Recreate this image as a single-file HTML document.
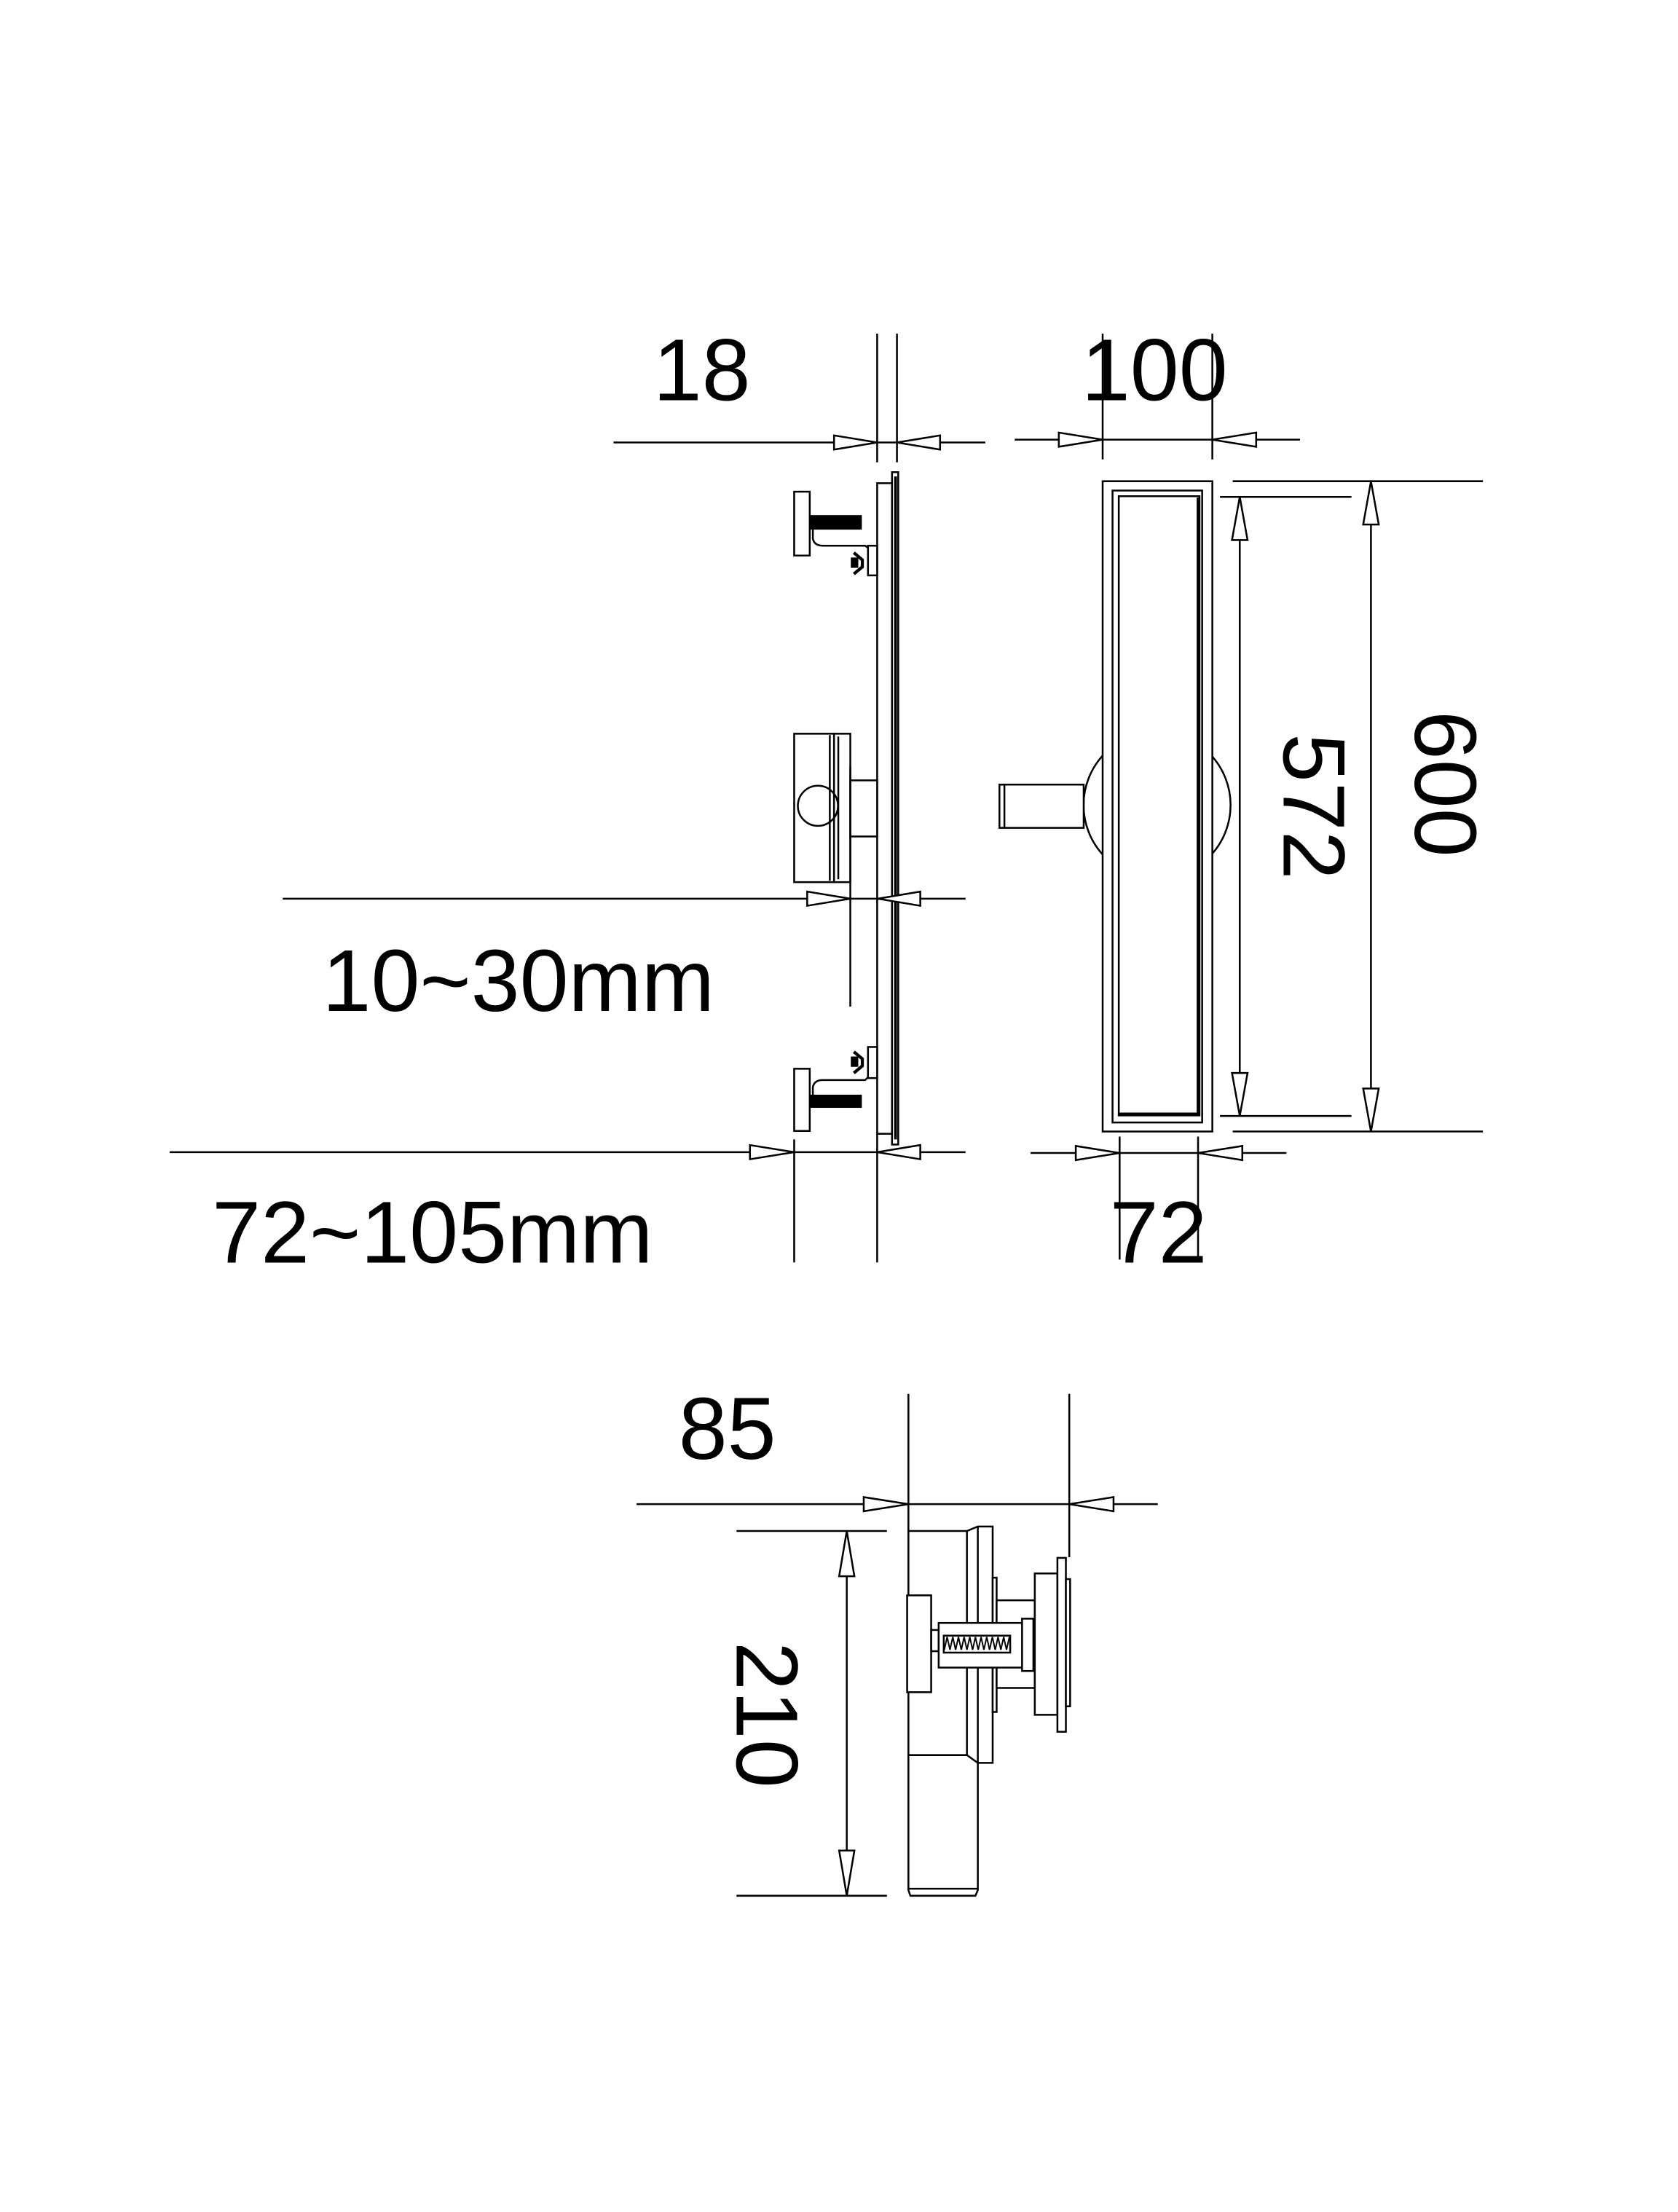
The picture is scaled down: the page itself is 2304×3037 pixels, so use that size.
<!DOCTYPE html>
<html><head><meta charset="utf-8"><style>
html,body{margin:0;padding:0;background:#fff;}
svg{display:block;}
text{font-family:"Liberation Sans",sans-serif;fill:#000;}
</style></head><body>
<svg width="2304" height="3037" viewBox="0 0 1187 1564.7" preserveAspectRatio="none" xmlns="http://www.w3.org/2000/svg">
<rect width="1187" height="1565" fill="#fff"/>
<g fill="none" stroke="#000" stroke-width="1.3">
<!-- ===== side view ===== -->
<!-- 18 dim -->
<line x1="434" y1="313" x2="697" y2="313"/>
<line x1="620.5" y1="236" x2="620.5" y2="327"/>
<line x1="634.5" y1="236" x2="634.5" y2="327"/>
<polygon points="620.5,313 590,308 590,318" fill="#fff"/>
<polygon points="634.5,313 665,308 665,318" fill="#fff"/>
<!-- plate -->
<rect x="620.5" y="341.8" width="10.5" height="460.2" fill="#fff"/>
<rect x="631" y="334" width="4.4" height="475.6" fill="#fff"/>
<line x1="633.5" y1="337" x2="633.5" y2="806" stroke-width="2"/>
<!-- top bracket -->
<rect x="561.8" y="347.8" width="11" height="45.2" fill="#fff"/>
<rect x="574" y="365" width="35" height="9" fill="#000"/>
<path d="M575,374 L575,381 Q576,386 582,386 L612,386 L616,389"/>
<rect x="614" y="386" width="6.5" height="21" fill="#fff"/>
<path d="M604,391 L610,396 L610,401 L604,406" stroke-width="2.2"/>
<rect x="602.5" y="395" width="4" height="6" fill="#000"/>
<!-- bottom bracket -->
<rect x="561.8" y="756" width="11" height="44" fill="#fff"/>
<rect x="574" y="775" width="35" height="8" fill="#000"/>
<path d="M575,775 L575,769 Q576,764 582,764 L612,764 L616,760"/>
<rect x="614" y="740.6" width="6.5" height="22" fill="#fff"/>
<path d="M604,744 L610,749 L610,754 L604,759" stroke-width="2.2"/>
<rect x="602.5" y="748" width="4" height="6" fill="#000"/>
<!-- middle box -->
<rect x="561.8" y="519" width="28.2" height="105" fill="#fff"/>
<rect x="590" y="519" width="11.5" height="105" fill="#fff"/>
<line x1="593" y1="521" x2="593" y2="622"/>
<line x1="587" y1="520" x2="587" y2="623"/>
<rect x="601.5" y="552" width="19" height="39.7" fill="#fff"/>
<circle cx="578.6" cy="570" r="14.2"/>
<!-- 10~30 dim -->
<line x1="200" y1="635.7" x2="683" y2="635.7"/>
<line x1="601.5" y1="542" x2="601.5" y2="712"/>
<polygon points="601.5,635.7 571,630.7 571,640.7" fill="#fff"/>
<polygon points="621,635.7 651,630.7 651,640.7" fill="#fff"/>
<!-- 72~105 dim -->
<line x1="120" y1="815" x2="683" y2="815"/>
<line x1="561.8" y1="806" x2="561.8" y2="893"/>
<line x1="620.5" y1="802" x2="620.5" y2="893"/>
<polygon points="561.8,815 530.5,810 530.5,820" fill="#fff"/>
<polygon points="620.5,815 651,810 651,820" fill="#fff"/>

<!-- ===== front view ===== -->
<line x1="717.8" y1="311" x2="919.6" y2="311"/>
<line x1="780" y1="236" x2="780" y2="325"/>
<line x1="857.6" y1="236" x2="857.6" y2="325"/>
<polygon points="780,311 749,306 749,316" fill="#fff"/>
<polygon points="857.6,311 888.6,306 888.6,316" fill="#fff"/>
<circle cx="818.5" cy="569.5" r="52"/>
<rect x="707" y="555" width="59.6" height="30.6" fill="#fff"/>
<line x1="710.5" y1="555" x2="710.5" y2="585.6"/>
<rect x="780" y="340.4" width="77.6" height="460" fill="#fff"/>
<rect x="787" y="347" width="63.4" height="447"/>
<rect x="791.4" y="351" width="57.1" height="438"/>
<line x1="847.5" y1="352" x2="847.5" y2="788" stroke-width="2"/>
<line x1="792" y1="788" x2="848" y2="788" stroke-width="2"/>
<!-- 572 -->
<line x1="863" y1="351.5" x2="956" y2="351.5"/>
<line x1="863" y1="789.4" x2="956" y2="789.4"/>
<line x1="877" y1="351.5" x2="877" y2="789.4"/>
<polygon points="877,351.5 871.5,382 882.5,382" fill="#fff"/>
<polygon points="877,789.4 871.5,759 882.5,759" fill="#fff"/>
<!-- 600 -->
<line x1="872" y1="340.4" x2="1049" y2="340.4"/>
<line x1="872" y1="800.4" x2="1049" y2="800.4"/>
<line x1="969.8" y1="340.4" x2="969.8" y2="800.4"/>
<polygon points="969.8,340.4 964.3,371 975.3,371" fill="#fff"/>
<polygon points="969.8,800.4 964.3,770 975.3,770" fill="#fff"/>
<!-- 72 -->
<line x1="729" y1="815.6" x2="910" y2="815.6"/>
<line x1="792" y1="804" x2="792" y2="891"/>
<line x1="847.5" y1="804" x2="847.5" y2="891"/>
<polygon points="792,815.6 761,810.6 761,820.6" fill="#fff"/>
<polygon points="847.5,815.6 878.8,810.6 878.8,820.6" fill="#fff"/>

<!-- ===== bottom view ===== -->
<line x1="450.3" y1="1064" x2="819" y2="1064"/>
<line x1="642.6" y1="986" x2="642.6" y2="1083"/>
<line x1="756.4" y1="986" x2="756.4" y2="1101.5"/>
<polygon points="642.6,1064 611,1059 611,1069" fill="#fff"/>
<polygon points="756.4,1064 787.7,1059 787.7,1069" fill="#fff"/>
<!-- 210 -->
<line x1="521" y1="1083" x2="627.4" y2="1083"/>
<line x1="521" y1="1341" x2="627.4" y2="1341"/>
<line x1="599" y1="1083" x2="599" y2="1341"/>
<polygon points="599,1083 593.6,1115 604.4,1115" fill="#fff"/>
<polygon points="599,1341 593.6,1309 604.4,1309" fill="#fff"/>
<!-- body -->
<path d="M642.6,1083 L684,1083 L691.7,1079.8 L702.2,1079.8 L702.2,1247 L691.7,1247 L684,1241.5 L642.6,1241.5 Z" fill="#fff"/>
<line x1="684" y1="1083" x2="684" y2="1241.5"/>
<line x1="691.7" y1="1080" x2="691.7" y2="1247"/>
<path d="M642.6,1241.5 L642.6,1337 L644,1341 L690,1341 L691.7,1337 L691.7,1247"/>
<line x1="642.6" y1="1336" x2="691.7" y2="1336"/>
<rect x="641.7" y="1128.5" width="17" height="68.5" fill="#fff"/>
<rect x="702.2" y="1116" width="2.8" height="95" fill="#fff"/>
<rect x="705" y="1132" width="27" height="62" fill="#fff"/>
<rect x="732" y="1113" width="16" height="100" fill="#fff"/>
<rect x="748" y="1102" width="6" height="123" fill="#fff"/>
<rect x="754" y="1117" width="3" height="90" fill="#fff"/>
<rect x="658.7" y="1153" width="5.3" height="15"/>
<rect x="664" y="1148" width="64" height="31.6" fill="#fff"/>
<rect x="723" y="1145" width="8" height="37" fill="#fff"/>
<rect x="667.6" y="1157" width="47" height="12" fill="#fff"/>
<path d="M668,1167 L670,1158 L672,1167 L674,1158 L676,1167 L678,1158 L680,1167 L682,1158 L684,1167 L686,1158 L688,1167 L690,1158 L692,1167 L694,1158 L696,1167 L698,1158 L700,1167 L702,1158 L704,1167 L706,1158 L708,1167 L710,1158 L712,1167 L714,1158" stroke-width="1"/>
</g>
<g font-size="62">
<text x="462" y="283">18</text>
<text x="765" y="283">100</text>
<text x="228" y="715">10~30mm</text>
<text x="150" y="893">72~105mm</text>
<text x="785" y="893">72</text>
<text x="480" y="1032">85</text>
<text transform="translate(908,570.5) rotate(90)" text-anchor="middle">572</text>
<text transform="translate(1001,554.5) rotate(90)" text-anchor="middle">600</text>
<text transform="translate(521,1213) rotate(90)" text-anchor="middle">210</text>
</g>
</svg>
</body></html>
